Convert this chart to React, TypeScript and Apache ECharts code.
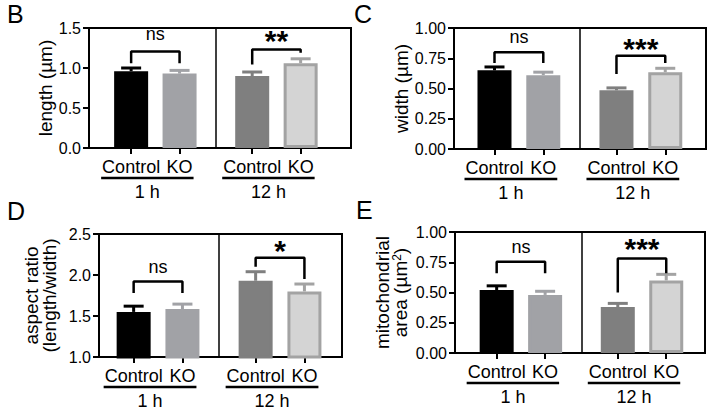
import React, { useEffect, useRef } from "react";
import * as echarts from "echarts";

// ---- data ----
const groups = ["Control", "KO", "Control", "KO"];
const positions = [1, 2, 3.5, 4.5];
const timeLabels = ["1 h", "12 h"];

const lengthMean = [0.96, 0.93, 0.9, 1.06];
const lengthSem = [0.04, 0.04, 0.05, 0.055];
const lengthBrackets = [[1.06, 1.205, 1.06], [1.045, 1.23, 1.19]];
const lengthSig = ["ns", "**"];
const lengthSigY = [1.43, 1.43];

const widthMean = [0.65, 0.61, 0.485, 0.635];
const widthSem = [0.028, 0.025, 0.02, 0.032];
const widthBrackets = [[0.71, 0.8, 0.71], [0.62, 0.77, 0.71]];
const widthSig = ["ns", "***"];
const widthSigY = [0.926, 0.888];

const ratioMean = [1.55, 1.585, 1.93, 1.8];
const ratioSem = [0.07, 0.06, 0.11, 0.09];
const ratioBrackets = [[1.78, 1.92, 1.78], [2.1, 2.21, 1.95]];
const ratioSig = ["ns", "*"];
const ratioSigY = [2.1, 2.39];

const areaMean = [0.52, 0.48, 0.38, 0.6];
const areaSem = [0.035, 0.03, 0.03, 0.05];
const areaBrackets = [[0.66, 0.755, 0.66], [0.5, 0.78, 0.66]];
const areaSig = ["ns", "***"];
const areaSigY = [0.873, 0.92];

// ---- styles ----
const FONT = "Arial, 'Liberation Sans', Helvetica, sans-serif";
const barFill = ["#000000", "#a1a2a6", "#7f7f7f", "#d4d4d4"];
const barBorder = ["#000000", "#a1a2a6", "#7f7f7f", "#a3a3a3"];

const panels = [
  {
    letter: "B", means: lengthMean, sems: lengthSem, brackets: lengthBrackets, sig: lengthSig, sigY: lengthSigY,
    yMin: 0, yMax: 1.5, yInt: 0.5, dec: 1, name: "length (µm)",
    grid: { left: 89, top: 28, width: 262, height: 120 }, xMin: 0.13, xMax: 5.54, nameGap: 32, letterPos: [7, 14],
  },
  {
    letter: "C", means: widthMean, sems: widthSem, brackets: widthBrackets, sig: widthSig, sigY: widthSigY,
    yMin: 0, yMax: 1, yInt: 0.25, dec: 2, name: "width (µm)",
    grid: { left: 454, top: 28, width: 252, height: 121 }, xMin: 0.17, xMax: 5.335, nameGap: 43, letterPos: [354, 14],
  },
  {
    letter: "D", means: ratioMean, sems: ratioSem, brackets: ratioBrackets, sig: ratioSig, sigY: ratioSigY,
    yMin: 1, yMax: 2.5, yInt: 0.5, dec: 1, name: "aspect ratio\n(length/width)",
    grid: { left: 99, top: 234, width: 243, height: 123 }, xMin: 0.29, xMax: 5.27, nameGap: 41, letterPos: [7, 211],
  },
  {
    letter: "E", means: areaMean, sems: areaSem, brackets: areaBrackets, sig: areaSig, sigY: areaSigY,
    yMin: 0, yMax: 1, yInt: 0.25, dec: 2, name: "mitochondrial\narea (µm{sup|2})",
    grid: { left: 455, top: 232, width: 250, height: 121 }, xMin: 0.14, xMax: 5.3, nameGap: 46, letterPos: [356, 210],
  },
];

function buildOption() {
  const grid: any[] = [];
  const xAxis: any[] = [];
  const yAxis: any[] = [];
  const series: any[] = [];

  panels.forEach((pn, gi) => {
    grid.push({ ...pn.grid, show: true, borderColor: "#000", borderWidth: 2, backgroundColor: "transparent" });
    xAxis.push({
      type: "value", gridIndex: gi, min: pn.xMin, max: pn.xMax,
      axisLine: { show: true, lineStyle: { color: "#000", width: 2 } },
      axisTick: { show: true, customValues: positions, length: 6, lineStyle: { color: "#000", width: 2 } },
      axisLabel: {
        show: true, customValues: positions, margin: 10, color: "#000", fontSize: 18, fontFamily: FONT,
        formatter: (v: number) => {
          const i = positions.findIndex((p) => Math.abs(p - v) < 1e-6);
          return i >= 0 ? groups[i] : "";
        },
      },
      splitLine: { show: false },
    });
    yAxis.push({
      type: "value", gridIndex: gi, min: pn.yMin, max: pn.yMax, interval: pn.yInt,
      name: pn.name, nameLocation: "middle", nameGap: pn.nameGap,
      nameTextStyle: {
        color: "#000", fontSize: 19, fontFamily: FONT, lineHeight: 18,
        rich: { sup: { fontSize: 12, fontFamily: FONT, color: "#000", verticalAlign: "top", lineHeight: 12 } },
      },
      axisLine: { show: true, lineStyle: { color: "#000", width: 2 } },
      axisTick: { show: true, length: 6, lineStyle: { color: "#000", width: 2 } },
      axisLabel: { margin: 8, color: "#000", fontSize: 16, fontFamily: FONT, formatter: (v: number) => v.toFixed(pn.dec) },
      splitLine: { show: false },
    });

    series.push({
      type: "bar", xAxisIndex: gi, yAxisIndex: gi, barWidth: 34, silent: true, z: 2,
      data: positions.map((p, i) => ({
        value: [p, pn.means[i]],
        itemStyle: { color: barFill[i], borderColor: barBorder[i], borderWidth: 3 },
      })),
      markLine: {
        symbol: "none", silent: true, label: { show: false },
        lineStyle: { color: "#000", width: 1.5, type: "solid" },
        data: [{ xAxis: (positions[1] + positions[2]) / 2 }],
      },
    });

    series.push({
      type: "custom", xAxisIndex: gi, yAxisIndex: gi, silent: true, z: 3,
      data: positions.map((p, i) => [p, pn.means[i], pn.sems[i], i]),
      renderItem: (params: any, api: any) => {
        const x = api.value(0), m = api.value(1), s = api.value(2), idx = api.value(3);
        const b = api.coord([x, m]);
        const t = api.coord([x, m + s]);
        const c = barBorder[idx];
        return {
          type: "group",
          children: [
            { type: "line", shape: { x1: b[0], y1: b[1], x2: t[0], y2: t[1] }, style: { stroke: c, lineWidth: 3 } },
            { type: "line", shape: { x1: t[0] - 10, y1: t[1], x2: t[0] + 10, y2: t[1] }, style: { stroke: c, lineWidth: 3 } },
          ],
        };
      },
    });

    pn.brackets.forEach((br, k) => {
      const x1 = positions[k * 2], x2 = positions[k * 2 + 1];
      series.push({
        type: "line", xAxisIndex: gi, yAxisIndex: gi, silent: true, z: 4, symbol: "none",
        lineStyle: { color: "#000", width: 2.5 },
        data: [[x1, br[0]], [x1, br[1]], [x2, br[1]], [x2, br[2]]],
      });
    });

    series.push({
      type: "custom", xAxisIndex: gi, yAxisIndex: gi, silent: true, z: 5,
      data: [0, 1].map((k) => [(positions[k * 2] + positions[k * 2 + 1]) / 2, pn.sigY[k], k]),
      renderItem: (params: any, api: any) => {
        const p = api.coord([api.value(0), api.value(1)]);
        const txt = pn.sig[api.value(2)];
        const star = txt !== "ns";
        return {
          type: "text", x: p[0], y: p[1] + (star ? 7 : 0),
          style: {
            text: txt, fill: "#000", fontFamily: FONT, fontSize: star ? 30 : 18, fontWeight: star ? "bold" : "normal",
            align: "center", verticalAlign: "middle", textAlign: "center", textVerticalAlign: "middle",
          },
        };
      },
    });
  });

  return { animation: false, backgroundColor: "#fff", grid, xAxis, yAxis, series };
}

export default function App() {
  const ref = useRef<HTMLDivElement>(null);
  useEffect(() => {
    document.body.style.margin = "0";
    const chart = echarts.init(ref.current!, undefined, { renderer: "svg" });
    chart.setOption(buildOption());

    const elements: any[] = [];
    panels.forEach((pn, gi) => {
      elements.push({
        type: "text", x: pn.letterPos[0], y: pn.letterPos[1],
        style: { text: pn.letter, fill: "#000", fontFamily: FONT, fontSize: 25, align: "left", verticalAlign: "middle", textAlign: "left", textVerticalAlign: "middle" },
      });
      [0, 1].forEach((k) => {
        const a = chart.convertToPixel({ xAxisIndex: gi, yAxisIndex: gi } as any, [positions[k * 2], pn.yMin]) as number[];
        const b = chart.convertToPixel({ xAxisIndex: gi, yAxisIndex: gi } as any, [positions[k * 2 + 1], pn.yMin]) as number[];
        const x1 = a[0] - 30, x2 = b[0] + 14;
        const yl = a[1] + 30;
        elements.push({ type: "line", shape: { x1, y1: yl, x2, y2: yl }, style: { stroke: "#000", lineWidth: 2.5 } });
        elements.push({
          type: "text", x: (x1 + x2) / 2, y: a[1] + 44,
          style: { text: timeLabels[k], fill: "#000", fontFamily: FONT, fontSize: 18, align: "center", verticalAlign: "middle", textAlign: "center", textVerticalAlign: "middle" },
        });
      });
    });
    chart.setOption({ graphic: { elements } });

    return () => chart.dispose();
  }, []);
  return <div ref={ref} style={{ width: 714, height: 411, position: "absolute", left: 0, top: 0 }} />;
}
